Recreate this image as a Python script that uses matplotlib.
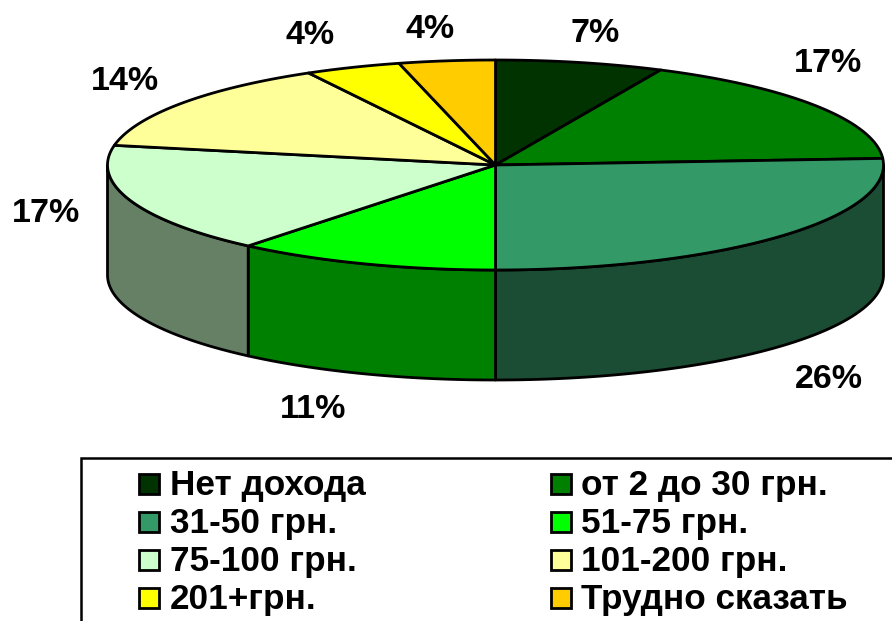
import numpy as np
import matplotlib
matplotlib.use("Agg")
import matplotlib.pyplot as plt
from matplotlib.patches import Polygon, Rectangle
from matplotlib.colors import to_rgb

plt.rcParams['font.family'] = ['Liberation Sans', 'DejaVu Sans']

categories = ["Нет дохода", "от 2 до 30 грн.", "31-50 грн.", "51-75 грн.",
              "75-100 грн.", "101-200 грн.", "201+грн.", "Трудно сказать"]
shares = [7, 17, 26, 11, 17, 14, 4, 4]
colors = ["#003300", "#008000", "#339966", "#00FF00",
          "#CCFFCC", "#FFFF99", "#FFFF00", "#FFCC00"]
label_xy = [(595, 33), (828, 63), (829, 380), (313, 409),
            (46, 213), (125, 81), (310, 36), (430, 30)]

CX, CY, RX, RY, DEPTH = 495.5, 165, 388, 105, 110
EDGE = 2.0

fig = plt.figure(figsize=(8.92, 6.21), dpi=100)
ax = fig.add_axes([0, 0, 1, 1])
ax.set_xlim(0, 892)
ax.set_ylim(621, 0)
ax.axis("off")


def rim(a, b, dy=0.0):
    """Points along the ellipse, angles in degrees clockwise from the top."""
    t = np.radians(np.linspace(a, b, max(int(abs(b - a)) * 2, 2)))
    return np.column_stack([CX + RX * np.sin(t), CY - RY * np.cos(t) + dy])


edges = np.concatenate([[0], np.cumsum(shares)]) * 360.0 / sum(shares)

# Outer wall of the disc: only the part facing the viewer is drawn
for i, col in enumerate(colors):
    a, b = max(edges[i], 90), min(edges[i + 1], 270)
    if b <= a:
        continue
    wall = np.vstack([rim(a, b), rim(a, b, DEPTH)[::-1]])
    shade = tuple(c * 0.5 for c in to_rgb(col))
    ax.add_patch(Polygon(wall, closed=True, fc=shade, ec="black", lw=EDGE, joinstyle="round"))

# Top face
for i, col in enumerate(colors):
    pts = np.vstack([[CX, CY], rim(edges[i], edges[i + 1])])
    ax.add_patch(Polygon(pts, closed=True, fc=col, ec="black", lw=EDGE, joinstyle="round"))

# Percentage labels
for val, (x, y) in zip(shares, label_xy):
    ax.text(x, y, f"{val}%", ha="center", va="center", fontsize=24.5, fontweight="bold", color="black")

# Legend frame runs past the right and bottom edges of the figure
ax.add_patch(Rectangle((81, 458), 900, 300, fc="white", ec="black", lw=1.8))

legend_cols = [(138.5, 170), (551, 581)]
legend_rows = [484, 522, 560, 598]
for i, (name, col) in enumerate(zip(categories, colors)):
    mx, tx = legend_cols[i % 2]
    y = legend_rows[i // 2]
    ax.add_patch(Rectangle((mx, y - 10), 20, 20, fc=col, ec="black", lw=2.0))
    ax.text(tx, y + 2, name, ha="left", va="center", fontsize=25.3, fontweight="bold", color="black")

fig.savefig("out.png", dpi=100)
